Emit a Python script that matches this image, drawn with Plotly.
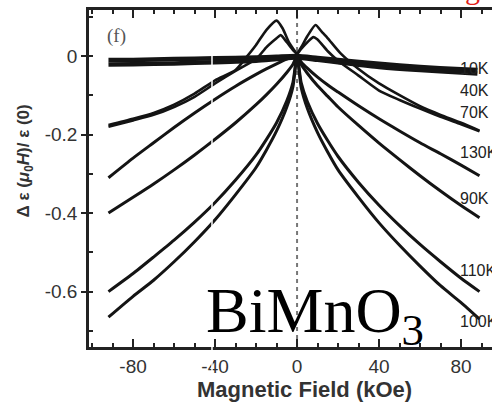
import plotly.graph_objects as go

# ---------------- data ----------------
# field values (kOe) and relative dielectric change for each temperature
H_10K = [-92, -80, -60, -40, -20, -10, 0, 10, 20, 40, 60, 80, 88]
d10K_a = [-0.010, -0.010, -0.008, -0.006, -0.004, -0.002, 0.000, -0.005, -0.010, -0.020, -0.028, -0.034, -0.036]
d10K_b = [-0.022, -0.021, -0.019, -0.016, -0.012, -0.008, -0.004, -0.010, -0.016, -0.028, -0.036, -0.042, -0.045]

H_40K = [-92, -80, -70, -60, -50, -40, -30, -25, -20, -15, -10, -7, -4, 0, 2, 5, 9, 12, 15, 21, 30, 40, 50, 60, 70, 80, 89]
d40K = [-0.176, -0.160, -0.145, -0.124, -0.096, -0.062, -0.036, -0.005, 0.028, 0.066, 0.090, 0.070, 0.035, 0.008,
        0.022, 0.050, 0.079, 0.062, 0.045, 0.008, -0.033, -0.070, -0.100, -0.128, -0.150, -0.170, -0.190]

H_70K = [-92, -80, -70, -60, -50, -40, -30, -20, -15, -10, -8, -5, -2, 0, 2, 5, 8, 10, 15, 20, 30, 40, 50, 60, 70, 80, 89]
d70K = [-0.180, -0.164, -0.150, -0.130, -0.104, -0.070, -0.038, -0.008, 0.022, 0.045, 0.053, 0.035, 0.015, 0.005,
        0.018, 0.035, 0.048, 0.042, 0.012, -0.012, -0.050, -0.088, -0.112, -0.134, -0.155, -0.174, -0.192]

H_grid = [-92, -80, -70, -60, -50, -40, -30, -20, -15, -10, -5, -2, 0, 2, 5, 10, 15, 20, 30, 40, 50, 60, 70, 80, 89]
d130K = [-0.310, -0.260, -0.221, -0.182, -0.145, -0.110, -0.077, -0.047, -0.033, -0.020, -0.008, -0.003, 0.0,
         -0.015, -0.031, -0.054, -0.074, -0.092, -0.127, -0.160, -0.191, -0.221, -0.249, -0.278, -0.305]
d90K = [-0.400, -0.360, -0.326, -0.290, -0.252, -0.212, -0.170, -0.124, -0.099, -0.072, -0.042, -0.021, 0.0,
        -0.022, -0.044, -0.076, -0.103, -0.130, -0.177, -0.222, -0.264, -0.305, -0.344, -0.381, -0.412]
d110K = [-0.600, -0.554, -0.512, -0.469, -0.423, -0.373, -0.316, -0.252, -0.213, -0.170, -0.114, -0.067, 0.0,
         -0.068, -0.116, -0.172, -0.216, -0.256, -0.322, -0.380, -0.432, -0.480, -0.524, -0.566, -0.600]
d100K = [-0.665, -0.612, -0.571, -0.524, -0.473, -0.417, -0.353, -0.284, -0.240, -0.191, -0.130, -0.078, 0.0,
         -0.080, -0.133, -0.195, -0.245, -0.290, -0.360, -0.425, -0.482, -0.535, -0.585, -0.628, -0.670]

curve_labels = ["10K", "40K", "70K", "130K", "90K", "110K", "100K"]
label_y = [-0.033, -0.089, -0.143, -0.247, -0.362, -0.545, -0.675]

x_ticks = [-80, -40, 0, 40, 80]
x_ticktext = ["-80", "-40", "0", "40", "80"]
y_ticks = [0, -0.2, -0.4, -0.6]
y_ticktext = ["0", "-0.2", "-0.4", "-0.6"]

# ---------------- figure ----------------
INK = "#141414"
fig = go.Figure()

def add_line(x, y, w):
    fig.add_trace(go.Scatter(x=x, y=y, mode="lines",
                             line=dict(color=INK, width=w, shape="spline", smoothing=0.6),
                             showlegend=False, hoverinfo="skip"))

add_line(H_10K, d10K_a, 4.5)
add_line(H_10K, d10K_b, 4.5)
add_line(H_40K, d40K, 2.6)
add_line(H_70K, d70K, 2.6)
add_line(H_grid, d130K, 3)
add_line(H_grid, d90K, 3)
add_line(H_grid, d110K, 3)
add_line(H_grid, d100K, 3)

# dotted zero-field line (drawn below traces)
fig.add_shape(type="line", x0=0, x1=0, y0=0, y1=1, xref="x", yref="paper",
              line=dict(color="#777777", width=2, dash="4px,4px"), layer="below")
# white stitching seam of the scanned figure
fig.add_shape(type="line", x0=-41.5, x1=-41.5, y0=-0.09, y1=1, xref="x", yref="paper",
              line=dict(color="white", width=1.5), layer="above")

label_font = dict(family="Liberation Sans, Arial, sans-serif", size=16, color="#222222")
for txt, yv in zip(curve_labels, label_y):
    fig.add_annotation(x=78.6, y=yv, xref="x", yref="y", text=txt, showarrow=False,
                       xanchor="left", yanchor="middle", font=label_font)

fig.add_annotation(x=-88.3, y=0.05, xref="x", yref="y", text="(f)", showarrow=False,
                   font=dict(family="Liberation Serif, Times New Roman, serif", size=19, color="#555555"))

fig.add_annotation(x=-45.5, y=-0.66, xref="x", yref="y", text="BiMnO<sub>3</sub>", showarrow=False,
                   xanchor="left", yanchor="middle",
                   font=dict(family="Liberation Serif, Times New Roman, serif", size=64, color="black"))

fig.add_annotation(x=3.4, y=-0.126, xref="x", yref="paper", text="<b>Magnetic Field (kOe)</b>",
                   showarrow=False, xanchor="center", yanchor="middle",
                   font=dict(family="Liberation Sans, Arial, sans-serif", size=22, color="#333333"))

fig.add_annotation(x=-0.158, y=-0.268, xref="paper", yref="y",
                   text="<b>Δ ε (<i>μ</i><sub>0</sub><i>H</i>)/ ε (0)</b>",
                   showarrow=False, textangle=-90, xanchor="center", yanchor="middle",
                   font=dict(family="Liberation Sans, Arial, sans-serif", size=17, color="#333333"))

fig.add_annotation(x=482, y=1.0, xref="x domain" if False else "paper", yref="paper", yshift=3,
                   text="g", showarrow=False, xanchor="right", yanchor="bottom",
                   font=dict(family="Liberation Serif, serif", size=30, color="#e0201a"))

tick_font = dict(family="Liberation Sans, Arial, sans-serif", size=19, color="#333333")
fig.update_layout(
    width=492, height=402,
    margin=dict(l=89, r=0, t=10, b=55, pad=0),
    plot_bgcolor="white", paper_bgcolor="white",
    xaxis=dict(range=[-101.5, 95.1], showgrid=False, zeroline=False,
               showline=True, linecolor="#222222", linewidth=2.5, mirror="ticks",
               ticks="inside", ticklen=8, tickwidth=1.5, tickcolor="#222222",
               tickvals=x_ticks, ticktext=x_ticktext, tickfont=tick_font,
               minor=dict(tick0=0, dtick=10, ticks="inside", ticklen=4, tickwidth=1.5, tickcolor="#222222")),
    yaxis=dict(range=[-0.741, 0.117], showgrid=False, zeroline=False,
               showline=True, linecolor="#222222", linewidth=2.5, mirror=False,
               ticks="outside", ticklen=5, tickwidth=1.5, tickcolor="#222222",
               tickvals=y_ticks, ticktext=y_ticktext, tickfont=tick_font,
               minor=dict(tick0=0, dtick=0.1, ticks="inside", ticklen=4, tickwidth=1.5, tickcolor="#222222")),
)
# place the red crop remnant in pixel terms: paper x of pixel 482
fig.layout.annotations[-1].x = (482 - 89) / (492 - 89)

fig.write_html("out.html", config={"displayModeBar": False},
               post_script="document.body.style.margin='0';document.body.style.overflow='hidden';")
